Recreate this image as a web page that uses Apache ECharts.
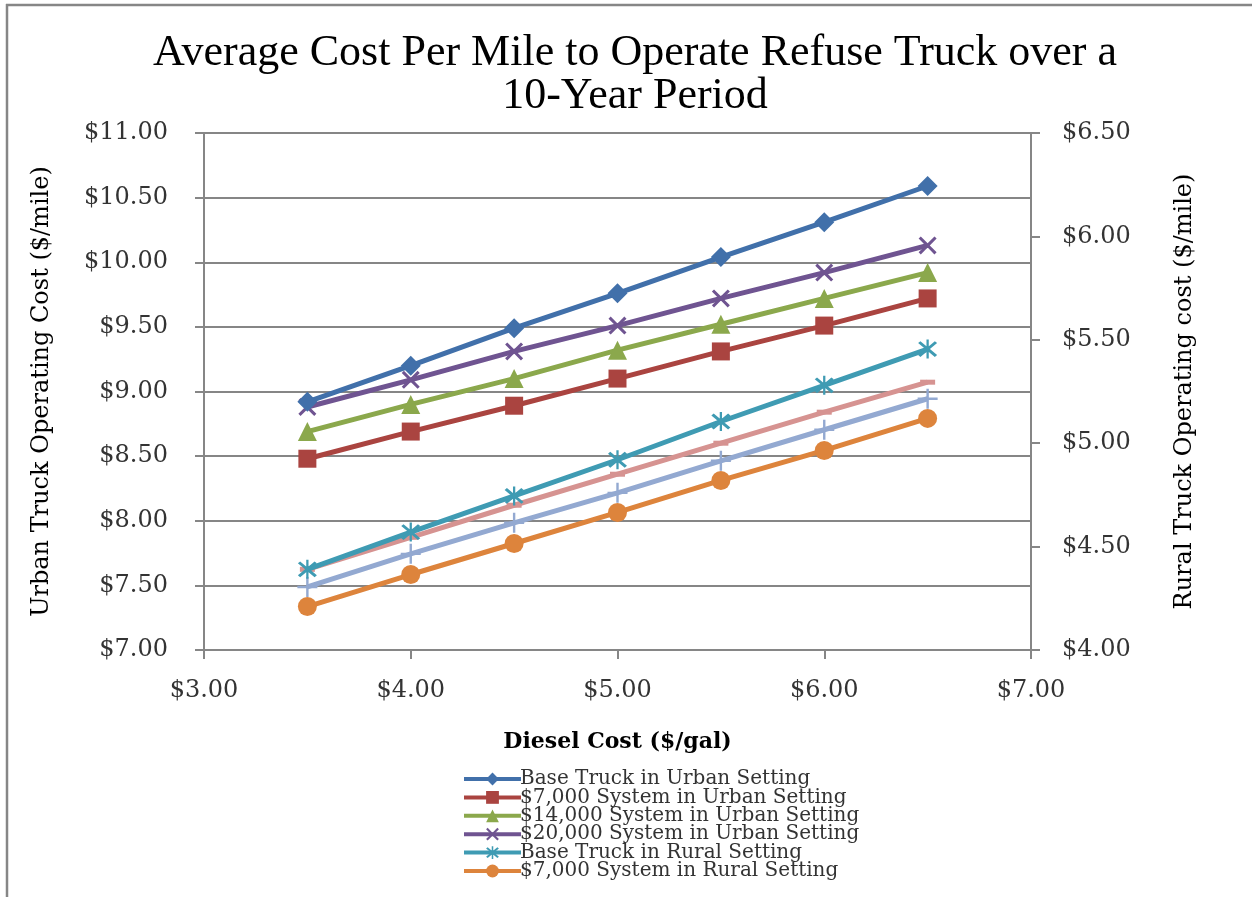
<!DOCTYPE html>
<html>
<head>
<meta charset="utf-8">
<script src="https://cdn.jsdelivr.net/npm/echarts@6/dist/echarts.min.js"></script>
<style>
html,body{margin:0;padding:0;background:#fff;}
#chart{width:1252px;height:897px;}
</style>
</head>
<body>
<div id="chart"></div>
<script>
// ---- data ----
const dieselCost = [3.5, 4.0, 4.5, 5.0, 5.5, 6.0, 6.5];
const baseUrban   = [8.92, 9.20, 9.49, 9.76, 10.04, 10.31, 10.59];
const sys7Urban   = [8.48, 8.69, 8.89, 9.10, 9.31, 9.51, 9.72];
const sys14Urban  = [8.69, 8.90, 9.10, 9.32, 9.52, 9.72, 9.92];
const sys20Urban  = [8.88, 9.09, 9.31, 9.51, 9.72, 9.92, 10.13];
const baseRural   = [4.39, 4.57, 4.745, 4.92, 5.105, 5.28, 5.455];
const sys7Rural   = [4.21, 4.365, 4.515, 4.665, 4.82, 4.965, 5.12];
const sys14Rural  = [4.39, 4.545, 4.70, 4.85, 5.00, 5.15, 5.295];
const sys20Rural  = [4.305, 4.465, 4.615, 4.76, 4.915, 5.065, 5.215];
const seriesNames = [
  'Base Truck in Urban Setting',
  '$7,000 System in Urban Setting',
  '$14,000 System in Urban Setting',
  '$20,000 System in Urban Setting',
  'Base Truck in Rural Setting',
  '$7,000 System in Rural Setting',
  '$14,000 System in Rural Setting',
  '$20,000 System in Rural Setting'
];
const legendShown = seriesNames.slice(0, 6);
const titleText = 'Average Cost Per Mile to Operate Refuse Truck over a\n10-Year Period';

// ---- styling ----
const FONT = 'DejaVu Serif';
const GRAY = '#868686';
const colors = ['#4170AA', '#AA4440', '#8BA84C', '#6F5491', '#3F9BB3', '#DD843C', '#D69391', '#93A9D1'];
const xPath = 'path://M0,1.2 L1.2,0 L5,3.8 L8.8,0 L10,1.2 L6.2,5 L10,8.8 L8.8,10 L5,6.2 L1.2,10 L0,8.8 L3.8,5 Z';
const starPath = 'path://M0,1.2 L1.2,0 L5,3.8 L8.8,0 L10,1.2 L6.2,5 L10,8.8 L8.8,10 L5,6.2 L1.2,10 L0,8.8 L3.8,5 Z M4.4,-1 L5.6,-1 L5.6,11 L4.4,11 Z';
const plusPath = 'path://M4.4,0 L5.6,0 L5.6,4.4 L10,4.4 L10,5.6 L5.6,5.6 L5.6,10 L4.4,10 L4.4,5.6 L0,5.6 L0,4.4 L4.4,4.4 Z';

const allData = [baseUrban, sys7Urban, sys14Urban, sys20Urban, baseRural, sys7Rural, sys14Rural, sys20Rural];
const symbols = ['diamond', 'rect', 'triangle', xPath, starPath, 'circle', 'rect', plusPath];
const symbolSizes = [20, 18, 19, 18, 19, 19, [15, 5], 20];
const yIdx = [0, 0, 0, 0, 1, 1, 1, 1];
const zs = [10, 7, 8, 9, 6, 5, 4, 3];

const series = allData.map((vals, i) => ({
  name: seriesNames[i],
  type: 'line',
  yAxisIndex: yIdx[i],
  data: dieselCost.map((x, j) => [x, vals[j]]),
  symbol: symbols[i],
  symbolSize: symbolSizes[i],
  showSymbol: true,
  z: zs[i],
  color: colors[i],
  lineStyle: { width: 5, color: colors[i] },
  itemStyle: { color: colors[i] },
  animation: false
}));

const money = v => '$' + v.toFixed(2);

const chart = echarts.init(document.getElementById('chart'), null, { renderer: 'canvas' });
chart.setOption({
  backgroundColor: '#fff',
  animation: false,
  title: {
    text: titleText,
    left: 630, top: 27, textAlign: 'center',
    textStyle: { fontFamily: 'Liberation Serif', fontSize: 44, fontWeight: 'normal', color: '#000', lineHeight: 43 }
  },
  graphic: [
    { type: 'line', shape: { x1: 7, y1: 4, x2: 7, y2: 897 }, style: { stroke: GRAY, lineWidth: 2.5 } },
    { type: 'line', shape: { x1: 6, y1: 5, x2: 1252, y2: 5 }, style: { stroke: GRAY, lineWidth: 2.5 } }
  ],
  legend: {
    data: legendShown,
    orient: 'vertical',
    left: 462, top: 769,
    padding: 0,
    itemGap: -1.6,
    itemWidth: 57, itemHeight: 16,
    lineStyle: { width: 4 },
    textStyle: { fontFamily: FONT, fontSize: 20, color: '#333', lineHeight: 18.4, padding: [0, 0, 0, -6] }
  },
  grid: { left: 204, right: 221, top: 133, bottom: 247 },
  xAxis: {
    type: 'value', min: 3, max: 7, interval: 1,
    name: 'Diesel Cost ($/gal)', nameLocation: 'middle', nameGap: 81,
    nameTextStyle: { fontFamily: FONT, fontSize: 22, fontWeight: 'bold', color: '#000' },
    axisLine: { show: true, lineStyle: { color: GRAY, width: 2 } },
    axisTick: { show: true, length: 9, lineStyle: { color: GRAY, width: 2 } },
    axisLabel: { formatter: money, fontFamily: FONT, fontSize: 24, color: '#333', margin: 29 },
    splitLine: { show: false }
  },
  yAxis: [
    {
      type: 'value', min: 7, max: 11, interval: 0.5, position: 'left',
      name: 'Urban Truck Operating Cost ($/mile)', nameLocation: 'middle', nameGap: 150, nameRotate: 90,
      nameTextStyle: { fontFamily: FONT, fontSize: 24, color: '#000' },
      axisLine: { show: true, lineStyle: { color: GRAY, width: 2 } },
      axisTick: { show: true, length: 9, lineStyle: { color: GRAY, width: 2 } },
      axisLabel: { formatter: money, fontFamily: FONT, fontSize: 24, color: '#333', margin: 36 },
      splitLine: { show: true, lineStyle: { color: GRAY, width: 2 } }
    },
    {
      type: 'value', min: 4, max: 6.5, interval: 0.5, position: 'right',
      name: 'Rural Truck Operating cost ($/mile)', nameLocation: 'middle', nameGap: 142, nameRotate: 90,
      nameTextStyle: { fontFamily: FONT, fontSize: 24, color: '#000' },
      axisLine: { show: true, lineStyle: { color: GRAY, width: 2 } },
      axisTick: { show: true, length: 9, lineStyle: { color: GRAY, width: 2 } },
      axisLabel: { formatter: money, fontFamily: FONT, fontSize: 24, color: '#333', margin: 31 },
      splitLine: { show: false }
    }
  ],
  series: series
});
</script>
</body>
</html>
